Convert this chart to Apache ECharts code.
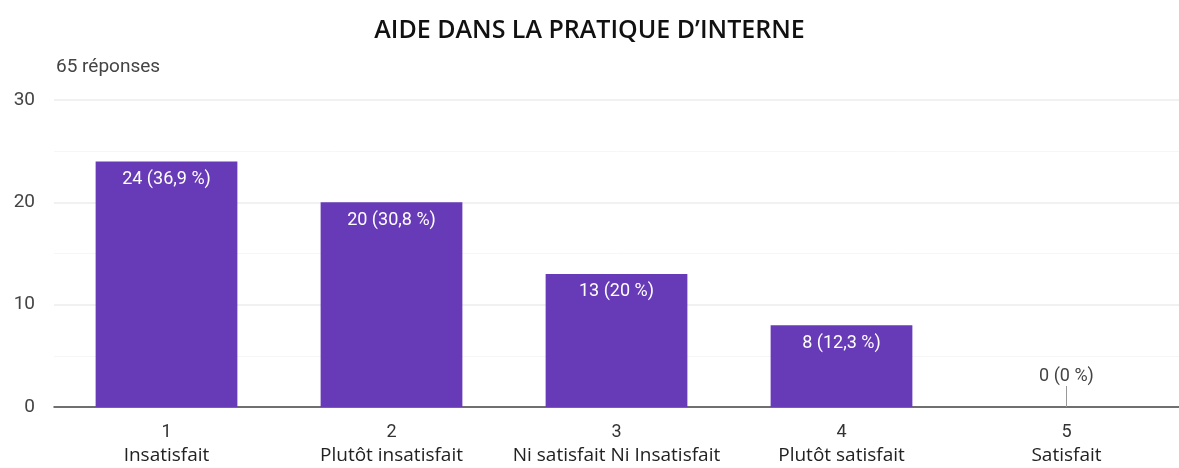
<!DOCTYPE html>
<html>
<head>
<meta charset="utf-8">
<script src="https://cdn.jsdelivr.net/npm/echarts@6/dist/echarts.min.js"></script>
<style>
  html, body { margin: 0; padding: 0; background: #fff; }
  #main { width: 1179px; height: 468px; }
</style>
</head>
<body>
<div id="main"></div>
<script>
// données
const numeros = ["1", "2", "3", "4", "5"];
const libelles = ["Insatisfait", "Plutôt insatisfait", "Ni satisfait Ni Insatisfait", "Plutôt satisfait", "Satisfait"];
const reponses = [24, 20, 13, 8, 0];
const pourcents = ["36,9", "30,8", "20", "12,3", "0"];
const yTicks = [0, 10, 20, 30];

let myChart = echarts.init(document.getElementById("main"));

function texteBarre(i) {
  return reponses[i] + " (" + pourcents[i] + " %)";
}

myChart.setOption({
  animation: false,
  title: [
    {
      text: "AIDE DANS LA PRATIQUE D\u2019INTERNE",
      left: "center",
      top: 13,
      textStyle: { fontFamily: "Open Sans", fontWeight: 600, fontSize: 25, color: "#111" }
    },
    {
      text: "65 réponses",
      left: 51,
      top: 53,
      textStyle: { fontFamily: "Roboto", fontWeight: "normal", fontSize: 19, color: "#444" }
    }
  ],
  grid: { left: 54, right: 0, top: 100, bottom: 61 },
  xAxis: {
    type: "category",
    data: numeros,
    axisTick: { show: false },
    axisLine: { lineStyle: { color: "#444", width: 1.5 } },
    axisLabel: {
      margin: 13,
      interval: 0,
      formatter: function(v, i) {
        return "{n|" + v + "}\n{t|" + libelles[i] + "}";
      },
      rich: {
        n: { fontFamily: "Roboto", fontSize: 18, color: "#333", lineHeight: 24 },
        t: { fontFamily: "Open Sans", fontSize: 19, color: "#222", lineHeight: 24 }
      }
    }
  },
  yAxis: {
    type: "value",
    min: 0,
    max: 30,
    interval: 10,
    axisLabel: {
      fontFamily: "Roboto",
      fontSize: 19,
      color: "#444",
      margin: 19,
      formatter: function(v) { return yTicks.indexOf(v) >= 0 ? String(v) : ""; }
    },
    splitLine: { lineStyle: { color: "#ececec", width: 1.5 } },
    minorTick: { show: false, splitNumber: 2 },
    minorSplitLine: { show: true, lineStyle: { color: "#f6f6f6", width: 1 } }
  },
  series: [
    {
      type: "bar",
      barWidth: "63%",
      itemStyle: { color: "#673ab7" },
      data: reponses.map(function(v, i) {
        if (v === 0) {
          // barre vide : texte gris au-dessus avec un petit trait
          return {
            value: v,
            label: {
              position: "top",
              distance: 0,
              formatter: function(p) {
                return "{a|" + texteBarre(p.dataIndex) + "}\n{l|}";
              },
              rich: {
                a: { fontFamily: "Roboto", fontSize: 18, color: "#444", lineHeight: 19 },
                l: { width: 1, height: 21, backgroundColor: "#999" }
              }
            }
          };
        }
        return v;
      }),
      label: {
        show: true,
        position: "insideTop",
        distance: 9,
        fontFamily: "Roboto",
        fontSize: 18,
        color: "#fff",
        formatter: function(p) {
          return texteBarre(p.dataIndex);
        }
      }
    }
  ]
});

window.onresize = myChart.resize;
</script>
</body>
</html>
